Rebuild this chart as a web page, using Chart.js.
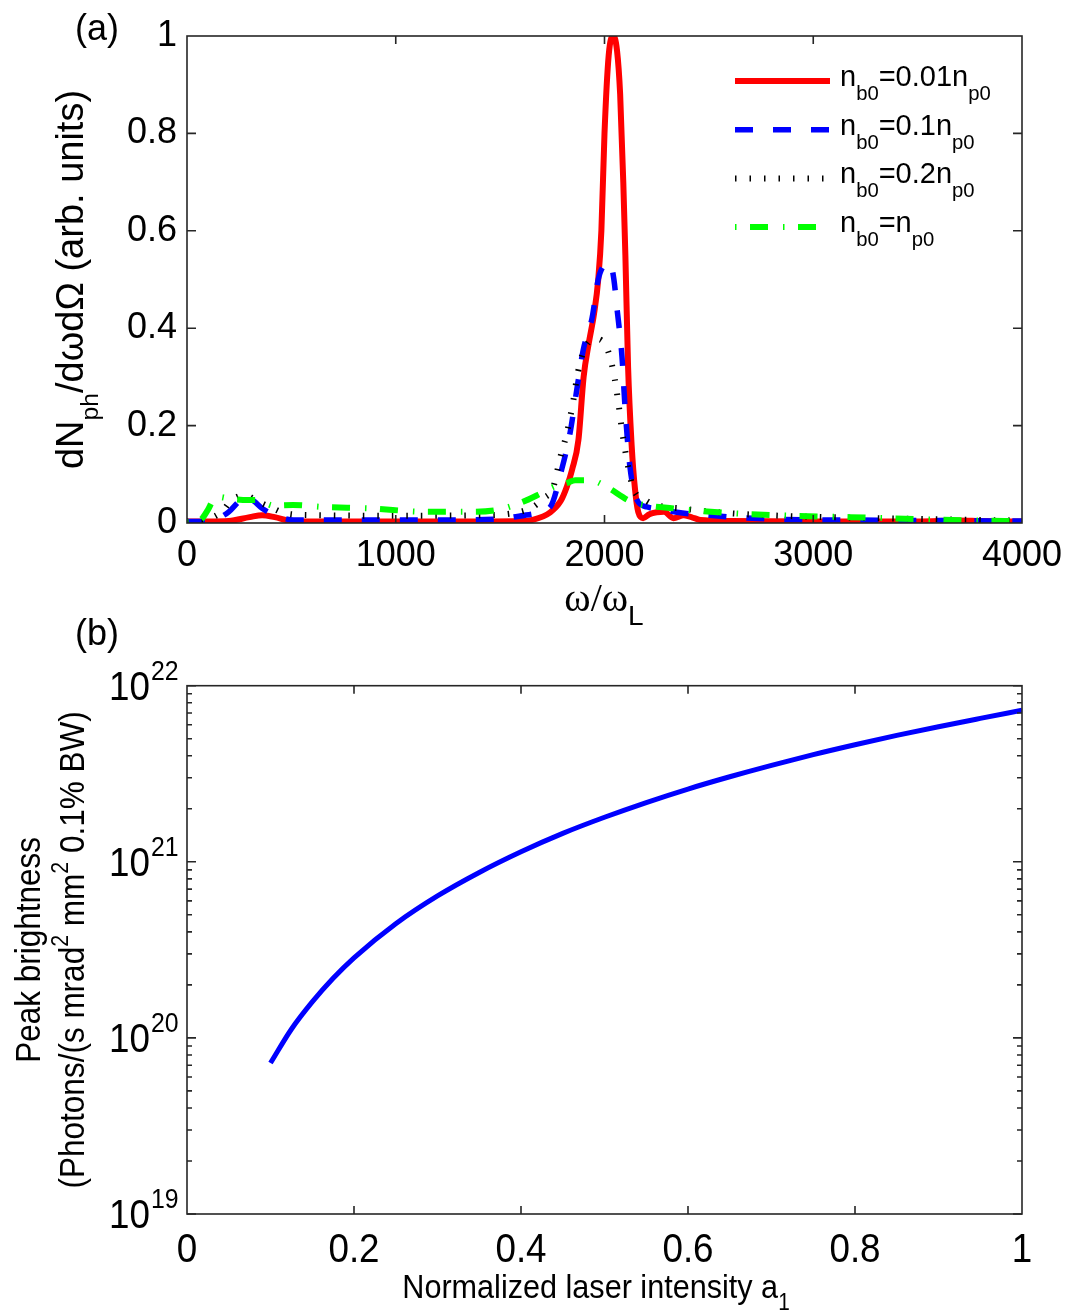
<!DOCTYPE html>
<html lang="en">
<head>
<meta charset="UTF-8" />
<title>Spectrum and peak brightness</title>
<style>
  html, body { margin: 0; padding: 0; background: #fff; }
  body { width: 1081px; height: 1312px; position: relative; overflow: hidden; }
  canvas { position: absolute; left: 0; }
  #chartA { top: 0; }
  #chartB { top: 600px; }
</style>
<script src="https://cdn.jsdelivr.net/npm/chart.js"></script>
</head>
<body>
<canvas id="chartA" width="1081" height="640"></canvas>
<canvas id="chartB" width="1081" height="712"></canvas>
<script>
  // ---- panel (a): spectra ----
  const omegaRed = [0, 100, 200, 300, 360, 420, 500, 600, 1000, 1400, 1600, 1660, 1740, 1790, 1820, 1845, 1875, 1900, 1925, 1950, 1970, 1985, 2000, 2020, 2042, 2060, 2075, 2090, 2100, 2113, 2130, 2146, 2162, 2185, 2215, 2250, 2285, 2330, 2380, 2430, 2460, 2600, 3000, 3500, 3700, 3800, 4000];
  const specRed  = [0.003, 0.003, 0.004, 0.012, 0.016, 0.012, 0.004, 0.003, 0.003, 0.003, 0.004, 0.007, 0.022, 0.045, 0.075, 0.11, 0.17, 0.30, 0.37, 0.43, 0.50, 0.60, 0.80, 0.96, 1.0, 0.97, 0.88, 0.70, 0.55, 0.32, 0.16, 0.07, 0.022, 0.01, 0.018, 0.022, 0.023, 0.01, 0.016, 0.01, 0.006, 0.004, 0.003, 0.003, 0.005, 0.004, 0.003];

  const omegaBlue = [0, 100, 150, 200, 250, 280, 320, 360, 400, 460, 510, 800, 1200, 1500, 1560, 1650, 1740, 1795, 1835, 1866, 1898, 1940, 1970, 2000, 2026, 2045, 2060, 2084, 2098, 2122, 2156, 2203, 2280, 2347, 2500, 2616, 2800, 3200, 3600, 4000];
  const specBlue  = [0.003, 0.004, 0.01, 0.023, 0.045, 0.055, 0.045, 0.03, 0.02, 0.01, 0.006, 0.006, 0.006, 0.008, 0.012, 0.018, 0.033, 0.11, 0.185, 0.27, 0.355, 0.42, 0.50, 0.53, 0.534, 0.50, 0.44, 0.34, 0.24, 0.115, 0.047, 0.033, 0.028, 0.022, 0.016, 0.012, 0.008, 0.006, 0.005, 0.004];

  const omegaBlack = [0, 100, 166, 214, 278, 340, 412, 470, 600, 1000, 1400, 1560, 1658, 1706, 1755, 1787, 1820, 1850, 1873, 1907, 1962, 2011, 2043, 2067, 2084, 2107, 2137, 2203, 2290, 2362, 2424, 2601, 2900, 3300, 3700, 4000];
  const specBlack  = [0.003, 0.008, 0.023, 0.047, 0.057, 0.044, 0.03, 0.02, 0.016, 0.015, 0.016, 0.02, 0.033, 0.05, 0.074, 0.133, 0.185, 0.25, 0.31, 0.36, 0.378, 0.36, 0.31, 0.245, 0.19, 0.13, 0.072, 0.045, 0.033, 0.03, 0.027, 0.02, 0.014, 0.01, 0.007, 0.005];

  const omegaGreen = [0, 60, 100, 125, 145, 206, 292, 340, 412, 508, 651, 877, 1150, 1370, 1500, 1628, 1691, 1760, 1820, 1860, 1930, 2011, 2113, 2156, 2330, 2616, 2900, 3175, 3500, 3800, 4000];
  const specGreen  = [0.002, 0.005, 0.027, 0.047, 0.054, 0.05, 0.047, 0.047, 0.036, 0.037, 0.033, 0.03, 0.023, 0.023, 0.028, 0.047, 0.06, 0.075, 0.082, 0.088, 0.088, 0.074, 0.047, 0.04, 0.03, 0.02, 0.015, 0.012, 0.008, 0.005, 0.004];

  // legend texts: [text, 'sub'|'sup'|'' ]
  const legendA = [
    [['n', ''], ['b0', 'sub'], ['=0.01n', ''], ['p0', 'sub']],
    [['n', ''], ['b0', 'sub'], ['=0.1n', ''], ['p0', 'sub']],
    [['n', ''], ['b0', 'sub'], ['=0.2n', ''], ['p0', 'sub']],
    [['n', ''], ['b0', 'sub'], ['=n', ''], ['p0', 'sub']]
  ];
  const xTicksA = [0, 1000, 2000, 3000, 4000];
  const yTicksA = [0, 0.2, 0.4, 0.6, 0.8, 1];

  // ---- panel (b): peak brightness vs a1 ----
  const intensityB  = [0.1, 0.125, 0.15, 0.175, 0.2, 0.25, 0.3, 0.35, 0.4, 0.45, 0.5, 0.55, 0.6, 0.65, 0.7, 0.75, 0.8, 0.85, 0.9, 0.95, 1.0];
  const brightnessB = [7.2e19, 1.12e20, 1.6e20, 2.18e20, 2.85e20, 4.45e20, 6.4e20, 8.7e20, 1.14e21, 1.45e21, 1.79e21, 2.17e21, 2.59e21, 3.04e21, 3.53e21, 4.06e21, 4.62e21, 5.22e21, 5.85e21, 6.52e21, 7.25e21];
  const xTicksB = [0, 0.2, 0.4, 0.6, 0.8, 1];
  const xTickLabelsB = ['0', '0.2', '0.4', '0.6', '0.8', '1'];
  const yDecadesB = [19, 20, 21, 22];

  const SANS = '"Liberation Sans", Arial, Helvetica, sans-serif';
  const SERIF = '"Liberation Serif", "Times New Roman", serif';

  function richFont(p, o) {
    const s = p[1] ? o.size * (o.small || 0.65) : o.size;
    return s + 'px ' + (p[2] || o.family || SANS);
  }

  function drawRich(ctx, parts, x, y, o) {
    ctx.save();
    ctx.translate(x, y);
    if (o.rot) ctx.rotate(o.rot);
    ctx.scale(o.sx || 1, 1);
    ctx.fillStyle = '#000';
    ctx.textBaseline = 'alphabetic';
    ctx.textAlign = 'left';
    let w = 0;
    parts.forEach(p => { ctx.font = richFont(p, o); w += ctx.measureText(p[0]).width; });
    let cx = o.align === 'center' ? -w / 2 : o.align === 'right' ? -w : 0;
    parts.forEach(p => {
      ctx.font = richFont(p, o);
      let dy = 0;
      if (p[1] === 'sub') dy = o.size * (o.subShift || 0.42);
      if (p[1] === 'sup') dy = -o.size * (o.supShift || 0.5);
      ctx.fillText(p[0], cx, dy);
      cx += ctx.measureText(p[0]).width;
    });
    ctx.restore();
  }

  // box around the axes with inward ticks on all four sides
  function drawFrame(chart, xTicks, yMajor, yMinor) {
    const ctx = chart.ctx, a = chart.chartArea;
    const xs = chart.scales.x, ys = chart.scales.y;
    ctx.save();
    ctx.strokeStyle = '#262626';
    ctx.lineWidth = 1.6;
    ctx.strokeRect(a.left, a.top, a.right - a.left, a.bottom - a.top);
    ctx.beginPath();
    xTicks.forEach(v => {
      const px = xs.getPixelForValue(v);
      ctx.moveTo(px, a.bottom); ctx.lineTo(px, a.bottom - 8);
      ctx.moveTo(px, a.top); ctx.lineTo(px, a.top + 8);
    });
    yMajor.forEach(v => {
      const py = ys.getPixelForValue(v);
      ctx.moveTo(a.left, py); ctx.lineTo(a.left + 9, py);
      ctx.moveTo(a.right, py); ctx.lineTo(a.right - 9, py);
    });
    yMinor.forEach(v => {
      const py = ys.getPixelForValue(v);
      ctx.moveTo(a.left, py); ctx.lineTo(a.left + 5, py);
      ctx.moveTo(a.right, py); ctx.lineTo(a.right - 5, py);
    });
    ctx.stroke();
    ctx.restore();
  }

  function pts(xs, ys) { return xs.map((x, i) => ({ x: x, y: ys[i] })); }

  const seriesA = [
    { data: pts(omegaRed, specRed), borderColor: '#ff0000', borderWidth: 6, borderDash: [], order: 4 },
    { data: pts(omegaBlue, specBlue), borderColor: '#0000ff', borderWidth: 5.5, borderDash: [18, 20], order: 3 },
    { data: pts(omegaBlack, specBlack), borderColor: '#000000', borderWidth: 6, borderDash: [1.5, 13], order: 2 },
    { data: pts(omegaGreen, specGreen), borderColor: '#00ff00', borderWidth: 6, borderDash: [1.5, 13.5, 18, 15], order: 1 }
  ];

  const decoA = {
    id: 'decoA',
    afterDraw(chart) {
      const ctx = chart.ctx, a = chart.chartArea;
      drawFrame(chart, xTicksA.slice(1, -1), yTicksA.slice(1, -1), []);
      // legend
      seriesA.forEach((s, i) => {
        const y = 81 + i * 48.7;
        ctx.save();
        ctx.strokeStyle = s.borderColor;
        ctx.lineWidth = s.borderWidth;
        ctx.setLineDash(s.borderDash);
        ctx.lineCap = 'butt';
        ctx.beginPath();
        ctx.moveTo(735, y); ctx.lineTo(830, y);
        ctx.stroke();
        ctx.restore();
        drawRich(ctx, legendA[i], 840, y + 5, { size: 29, small: 0.7, subShift: 0.48 });
      });
      // panel label and axis titles
      drawRich(ctx, [['(a)', '']], 75, 40, { size: 36 });
      drawRich(ctx, [['dN', ''], ['ph', 'sub'], ['/dωdΩ (arb. units)', '']], 83, (a.top + a.bottom) / 2,
        { size: 38, rot: -Math.PI / 2, align: 'center', small: 0.65, subShift: 0.4 });
      drawRich(ctx, [['ω/ω', '', SERIF], ['L', 'sub']], 604, 611, { size: 40, align: 'center', small: 0.7, subShift: 0.35 });
    }
  };

  new Chart(document.getElementById('chartA'), {
    type: 'line',
    data: {
      datasets: seriesA.map(s => ({
        data: s.data, borderColor: s.borderColor, borderWidth: s.borderWidth,
        borderDash: s.borderDash, order: s.order, fill: false, pointRadius: 0,
        cubicInterpolationMode: 'monotone'
      }))
    },
    options: {
      responsive: false,
      animation: false,
      layout: { padding: { left: 0, right: 59, top: 36, bottom: 0 } },
      plugins: { legend: { display: false }, tooltip: { enabled: false } },
      scales: {
        x: {
          type: 'linear', min: 0, max: 4000,
          grid: { display: false, drawTicks: false }, border: { display: false },
          afterBuildTicks: s => { s.ticks = xTicksA.map(v => ({ value: v })); },
          ticks: { padding: 11, color: '#000', maxRotation: 0, autoSkip: false, font: { family: SANS, size: 36 },
                   callback: v => String(v) },
          afterFit: s => { s.height = 117; }
        },
        y: {
          type: 'linear', min: 0, max: 1,
          grid: { display: false, drawTicks: false }, border: { display: false },
          afterBuildTicks: s => { s.ticks = yTicksA.map(v => ({ value: v })); },
          ticks: { padding: 10, color: '#000', autoSkip: false, font: { family: SANS, size: 36 },
                   callback: v => String(+Number(v).toFixed(1)) },
          afterFit: s => { s.width = 187; }
        }
      }
    },
    plugins: [decoA]
  });

  const decoB = {
    id: 'decoB',
    afterDraw(chart) {
      const ctx = chart.ctx, a = chart.chartArea;
      const xs = chart.scales.x, ys = chart.scales.y;
      const minor = [];
      yDecadesB.slice(0, -1).forEach(e => { for (let m = 2; m <= 9; m++) minor.push(m * Math.pow(10, e)); });
      drawFrame(chart, xTicksB.slice(1, -1), yDecadesB.map(e => Math.pow(10, e)), minor);
      const sx = 0.92;
      xTicksB.forEach((v, i) => {
        drawRich(ctx, [[xTickLabelsB[i], '']], xs.getPixelForValue(v), a.bottom + 48, { size: 40, sx: sx, align: 'center' });
      });
      yDecadesB.forEach(e => {
        const py = ys.getPixelForValue(Math.pow(10, e));
        drawRich(ctx, [['10', '']], 150, py + 14, { size: 40, sx: sx, align: 'right' });
        drawRich(ctx, [[String(e), '']], 151, py - 6, { size: 27, sx: sx });
      });
      drawRich(ctx, [['(b)', '']], 75, 45, { size: 36 });
      drawRich(ctx, [['Normalized laser intensity a', ''], ['1', 'sub']], 596, 698,
        { size: 34, sx: 0.9, align: 'center', small: 0.68, subShift: 0.35 });
      const cy = (a.top + a.bottom) / 2;
      drawRich(ctx, [['Peak brightness', '']], 40, cy, { size: 35, sx: 0.9, rot: -Math.PI / 2, align: 'center' });
      drawRich(ctx, [['(Photons/(s mrad', ''], ['2', 'sup'], [' mm', ''], ['2', 'sup'], [' 0.1% BW)', '']], 84, cy,
        { size: 35, sx: 0.9, rot: -Math.PI / 2, align: 'center', small: 0.68, supShift: 0.45 });
    }
  };

  new Chart(document.getElementById('chartB'), {
    type: 'line',
    data: {
      datasets: [{
        data: pts(intensityB, brightnessB), borderColor: '#0000ff', borderWidth: 5,
        fill: false, pointRadius: 0, cubicInterpolationMode: 'monotone'
      }]
    },
    options: {
      responsive: false,
      animation: false,
      layout: { padding: { left: 0, right: 59, top: 85.7, bottom: 0 } },
      plugins: { legend: { display: false }, tooltip: { enabled: false } },
      scales: {
        x: {
          type: 'linear', min: 0, max: 1,
          grid: { display: false, drawTicks: false }, border: { display: false },
          ticks: { display: false },
          afterFit: s => { s.height = 98; }
        },
        y: {
          type: 'logarithmic', min: 1e19, max: 1e22,
          grid: { display: false, drawTicks: false }, border: { display: false },
          ticks: { display: false },
          afterFit: s => { s.width = 187; }
        }
      }
    },
    plugins: [decoB]
  });
</script>
</body>
</html>
